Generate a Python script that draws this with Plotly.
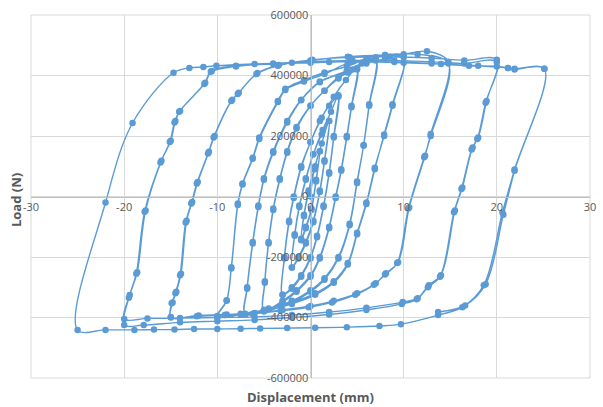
import plotly.graph_objects as go

# ---- data: displacement (mm) and load (N), cycle by cycle ----
disp_1mm = [0.0, 0.4, 1.0, 0.6, 0.1, -0.5, -1.0, -0.7, -0.2, 0.4, 1.0, 0.6, 0.1, -0.5, -1.0, -0.7, -0.2, 0.5, 1.2]
load_1mm = [0, 90000, 150000, 55000, -40000, -100000, -140000, -60000, 20000, 90000, 150000, 50000, -45000, -105000, -145000, -65000, 15000, 100000, 175000]

disp_2mm = [2.0, 1.5, 1.0, 0.3, -0.5, -1.3, -2.0, -1.7, -1.2, -0.5, 0.3, 1.2,
            2.0, 1.5, 1.0, 0.3, -0.5, -1.3, -2.0, -1.7, -1.2, -0.5, 0.3, 1.3, 2.2]
load_2mm = [250000, 120000, 20000, -80000, -150000, -200000, -235000, -125000, -30000, 60000, 140000, 205000,
            250000, 115000, 15000, -85000, -155000, -205000, -235000, -130000, -35000, 55000, 140000, 220000, 280000]

disp_3mm = [3.0, 2.5, 2.0, 1.4, 0.7, 0.0, -1.0, -2.0, -3.0, -2.8, -2.3, -1.8, -1.0, 0.0, 1.0, 2.0,
            3.0, 2.5, 2.0, 1.4, 0.7, 0.0, -1.0, -2.0, -3.0, -2.8, -2.3, -1.8, -1.0, 0.0, 1.2, 2.5, 3.8]
load_3mm = [335000, 200000, 80000, -30000, -130000, -200000, -260000, -300000, -325000, -200000, -80000, 0, 100000, 180000, 250000, 300000,
            330000, 195000, 75000, -35000, -135000, -205000, -265000, -305000, -325000, -205000, -85000, -5000, 95000, 180000, 260000, 330000, 385000]

disp_5mm = [5.0, 4.4, 3.9, 3.3, 2.7, 2.0, 1.0, 0.0, -1.5, -3.0, -5.0, -4.9, -4.5, -4.0, -3.3, -2.5, -1.5, 0.0, 1.5, 3.0, 4.0,
            5.0, 4.4, 3.9, 3.3, 2.7, 2.0, 1.0, 0.0, -1.5, -3.0, -5.0, -4.9, -4.5, -4.0, -3.3, -2.5, -1.5, 0.0, 1.5, 3.0, 4.5]
load_5mm = [425000, 300000, 200000, 90000, 0, -100000, -200000, -260000, -310000, -345000, -375000, -280000, -150000, -40000, 60000, 150000, 230000, 300000, 350000, 390000, 410000,
            420000, 295000, 195000, 85000, -5000, -105000, -205000, -265000, -315000, -350000, -378000, -285000, -155000, -45000, 55000, 145000, 225000, 300000, 350000, 395000, 420000]

disp_7mm = [7.0, 6.3, 5.7, 5.0, 4.2, 3.0, 1.5, 0.0, -2.0, -4.5, -7.0, -6.8, -6.2, -5.6, -5.0, -4.0, -2.5, -1.0, 1.0, 3.9, 5.5,
            7.0, 6.3, 5.7, 5.0, 4.2, 3.0, 1.5, 0.0, -2.0, -4.5, -7.0, -6.8, -6.2, -5.6, -5.0, -4.0, -2.5, -1.0, 1.0, 3.9, 6.0, 8.0]
load_7mm = [450000, 300000, 168000, 50000, -90000, -200000, -270000, -310000, -345000, -370000, -388000, -300000, -150000, -30000, 60000, 150000, 250000, 320000, 380000, 415000, 440000,
            455000, 305000, 170000, 45000, -95000, -205000, -275000, -315000, -350000, -372000, -390000, -305000, -155000, -35000, 55000, 145000, 245000, 318000, 378000, 412000, 440000, 455000]

disp_10mm = [10.0, 8.8, 7.9, 6.9, 6.0, 5.0, 4.0, 2.5, 0.5, -2.0, -5.0, -7.5, -10.0, -9.0, -8.5, -7.8, -7.3, -6.2, -5.5, -3.5, -2.7, -0.7, 1.5, 3.9, 6.0, 8.0,
             10.0, 8.8, 7.9, 6.9, 6.0, 5.0, 4.0, 2.5, 0.5, -2.0, -5.0, -7.5, -10.0, -9.0, -8.5, -7.8, -7.3, -6.2, -5.5, -3.5, -2.7, -0.7, 1.5, 4.0, 7.0, 10.0]
load_10mm = [460000, 300000, 200000, 95000, -20000, -120000, -220000, -280000, -320000, -350000, -375000, -388000, -395000, -343000, -234000, -23000, 43000, 128000, 195000, 316000, 356000, 385000, 410000, 430000, 455000, 468000,
             465000, 305000, 205000, 90000, -25000, -125000, -225000, -285000, -325000, -355000, -380000, -390000, -398000, -345000, -238000, -28000, 40000, 125000, 190000, 312000, 352000, 380000, 405000, 440000, 460000, 470000]

disp_15mm = [12.5, 14.8, 12.9, 12.3, 10.6, 9.4, 8.1, 7.0, 5.0, 2.5, 0.0, -3.0, -6.0, -9.0, -12.0, -15.0, -14.9, -14.5, -14.0, -13.4, -12.8, -12.2, -11.0, -10.4, -8.5, -7.8, -5.8, -3.5, 0.0, 4.0, 8.0, 11.5,
             14.8, 12.9, 12.2, 10.5, 9.3, 8.0, 6.8, 4.8, 2.3, -0.2, -3.2, -6.2, -9.2, -12.2, -15.0, -14.8, -14.4, -13.9, -13.3, -12.7, -12.1, -10.9, -10.3, -8.4, -7.7, -5.7, -3.4, 0.2, 4.2, 8.5, 13.0, 16.5]
load_15mm = [480000, 445000, 207000, 135000, -36000, -217000, -254000, -287000, -320000, -345000, -362000, -375000, -385000, -390000, -393000, -398000, -353000, -320000, -260000, -86000, -23000, 43000, 142000, 195000, 316000, 339000, 405000, 432000, 450000, 462000, 468000, 470000,
             440000, 200000, 130000, -40000, -220000, -258000, -292000, -325000, -350000, -366000, -378000, -388000, -392000, -396000, -400000, -350000, -315000, -255000, -80000, -18000, 48000, 148000, 200000, 320000, 343000, 408000, 435000, 452000, 460000, 462000, 458000, 450000]

disp_20mm = [20.0, 18.9, 18.0, 17.4, 16.3, 15.5, 14.0, 12.7, 11.5, 9.9, 6.0, 2.0, -2.0, -6.0, -10.0, -14.0, -17.5, -20.0, -19.4, -18.6, -17.7, -16.0, -15.0, -14.5, -14.0, -11.3, -10.6, -8.0, -4.0, 0.0, 4.5, 9.0, 13.0, 16.5,
             20.0, 18.8, 17.9, 17.3, 16.2, 15.4, 13.9, 12.6, 11.4, 9.8, 6.0, 2.0, -2.0, -6.0, -10.0, -14.0, -17.9, -20.0, -19.5, -18.7, -17.8, -16.1, -15.1, -14.6, -14.1, -11.4, -10.7, -8.0, -4.0, 0.0, 4.5, 9.0, 13.0, 17.0, 20.0]
load_20mm = [452000, 316000, 195000, 162000, 30000, -46000, -260000, -293000, -336000, -349000, -368000, -382000, -392000, -398000, -400000, -402000, -403000, -405000, -326000, -250000, -46000, 118000, 184000, 250000, 283000, 376000, 415000, 432000, 440000, 446000, 450000, 450000, 445000, 440000,
             445000, 310000, 190000, 155000, 25000, -52000, -265000, -300000, -340000, -355000, -375000, -390000, -400000, -408000, -412000, -416000, -425000, -425000, -335000, -255000, -50000, 112000, 180000, 245000, 280000, 372000, 412000, 430000, 438000, 442000, 446000, 445000, 440000, 432000, 430000]

disp_25mm = [21.2, 21.9, 25.1, 21.9, 20.6, 18.6, 16.3, 13.7, 9.7, 7.4, 3.9, 0.5, -2.5, -5.4, -7.5, -10.0, -12.5, -14.6, -16.8, -18.9, -22.0, -25.0,
             -22.0, -19.1, -14.7, -13.0, -11.5, -10.1, -6.0, -2.0, 2.0, 6.0, 10.0, 14.0, 18.0, 21.2, 21.9, 25.1, 21.9, 20.7, 18.8, 16.6, 13.7]
load_25mm = [425000, 420000, 422000, 89000, -53000, -293000, -366000, -392000, -422000, -428000, -432000, -434000, -435000, -436000, -437000, -438000, -438000, -440000, -440000, -441000, -441000, -441000,
             -20000, 243000, 409000, 425000, 428000, 432000, 438000, 442000, 445000, 445000, 442000, 438000, 432000, 425000, 422000, 422000, 85000, -60000, -290000, -360000, -382000]

x_ticks = [-30, -20, -10, 0, 10, 20, 30]
x_tick_text = ["-30", "-20", "-10", "0", "10", "20", "30"]
y_ticks = [-600000, -400000, -200000, 0, 200000, 400000, 600000]
y_tick_text = ["-600000", "-400000", "-200000", "0", "200000", "400000", "600000"]

x_title = "Displacement (mm)"
y_title = "Load (N)"

displacement = disp_1mm + disp_2mm + disp_3mm + disp_5mm + disp_7mm + disp_10mm + disp_15mm + disp_20mm + disp_25mm
load = load_1mm + load_2mm + load_3mm + load_5mm + load_7mm + load_10mm + load_15mm + load_20mm + load_25mm

BLUE = "#5B9BD5"
GRID = "#d9d9d9"
AXIS = "#bfbfbf"
TXT = "#595959"
FONT = "Open Sans, Lato, sans-serif"

fig = go.Figure()
fig.add_trace(go.Scatter(
    x=displacement, y=load, mode="lines+markers",
    line=dict(color=BLUE, width=1.4, shape="spline", smoothing=1.0),
    marker=dict(color=BLUE, size=6.5),
    showlegend=False, hoverinfo="x+y",
))

fig.update_layout(
    width=603, height=407,
    margin=dict(l=31, r=7, t=14, b=29),
    paper_bgcolor="white", plot_bgcolor="white",
    font=dict(family=FONT, color=TXT, size=11),
    xaxis=dict(range=[-30, 30], tickvals=x_ticks, ticktext=x_tick_text,
               showgrid=True, gridcolor=GRID, gridwidth=1, zeroline=False,
               anchor="free", position=0.5, showline=True, linecolor=AXIS, linewidth=1,
               ticks="", tickfont=dict(family=FONT, size=11, color=TXT)),
    yaxis=dict(range=[-600000, 600000], tickvals=y_ticks, ticktext=y_tick_text,
               showgrid=True, gridcolor=GRID, gridwidth=1, zeroline=False,
               anchor="free", position=0.5, showline=True, linecolor=AXIS, linewidth=1,
               ticks="", tickfont=dict(family=FONT, size=11, color=TXT)),
    shapes=[dict(type="rect", xref="paper", yref="paper", x0=0, y0=0, x1=1, y1=1,
                 line=dict(color=GRID, width=1), layer="below")],
    annotations=[
        dict(text=x_title, xref="paper", yref="paper", x=0.5, y=-0.052, showarrow=False,
             xanchor="center", yanchor="middle", font=dict(family=FONT, size=13, color=TXT, weight="bold")),
        dict(text=y_title, xref="paper", yref="paper", x=-0.027, y=0.49, showarrow=False, textangle=-90,
             xanchor="center", yanchor="middle", font=dict(family=FONT, size=13, color=TXT, weight="bold")),
    ],
)

fig.write_html("out.html")
